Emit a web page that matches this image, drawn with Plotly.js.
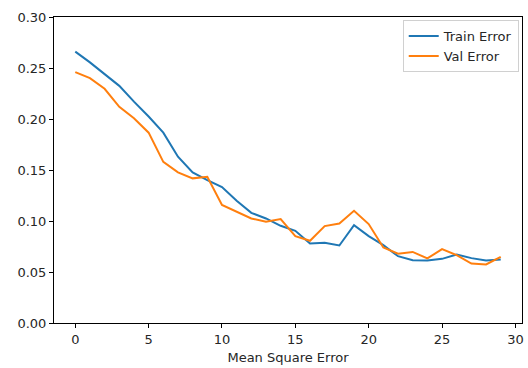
<!DOCTYPE html>
<html>
<head>
<meta charset="utf-8">
<script src="https://cdn.plot.ly/plotly-3.0.1.min.js"></script>
<style>html,body{margin:0;padding:0;background:#fff;}#chart{width:528px;height:368px;}</style>
</head>
<body>
<div id="chart"></div>
<script>
var epochs = [0,1,2,3,4,5,6,7,8,9,10,11,12,13,14,15,16,17,18,19,20,21,22,23,24,25,26,27,28,29];
var trainError = [0.266,0.2555,0.244,0.2325,0.217,0.2024,0.1866,0.163,0.1477,0.140,0.1332,0.1198,0.108,0.1025,0.0953,0.0904,0.078,0.0786,0.076,0.096,0.0852,0.0763,0.0655,0.0616,0.0613,0.0629,0.0672,0.0636,0.0613,0.0623];
var valError = [0.246,0.240,0.2296,0.212,0.2008,0.1866,0.158,0.1477,0.1418,0.1434,0.1157,0.109,0.1025,0.0992,0.1019,0.0852,0.0806,0.095,0.0976,0.110,0.097,0.074,0.068,0.0697,0.0633,0.0724,0.0665,0.0583,0.0574,0.0648];
var seriesNames = ["Train Error","Val Error"];
var xTitle = "Mean Square Error";

var font = {family: "DejaVu Sans, sans-serif", size: 13, color: "#262626"};
var traces = [
  {x: epochs, y: trainError, name: seriesNames[0], mode: "lines", line: {color: "#1f77b4", width: 2}},
  {x: epochs, y: valError, name: seriesNames[1], mode: "lines", line: {color: "#ff7f0e", width: 2}}
];
var axisCommon = {showline: true, mirror: true, linecolor: "#000", linewidth: 1, showgrid: false, zeroline: false,
  ticks: "outside", ticklen: 4, tickwidth: 1, tickcolor: "#000", tickfont: font};
var layout = {
  width: 528, height: 368,
  margin: {l: 54, r: 6, t: 17, b: 45},
  paper_bgcolor: "#fff", plot_bgcolor: "#fff",
  font: font,
  showlegend: true,
  legend: {x: 0.993, y: 0.99, xanchor: "right", yanchor: "top", bgcolor: "rgba(255,255,255,0.9)",
    bordercolor: "#d0d0d0", borderwidth: 1, font: font, itemwidth: 30},
  xaxis: Object.assign({}, axisCommon, {range: [-1.45, 30.45], tickmode: "linear", tick0: 0, dtick: 5,
    title: {text: xTitle, font: font, standoff: 7}}),
  yaxis: Object.assign({}, axisCommon, {range: [0, 0.30], tickmode: "linear", tick0: 0, dtick: 0.05, tickformat: ".2f"})
};
Plotly.newPlot("chart", traces, layout, {displayModeBar: false, staticPlot: true});
</script>
</body>
</html>
